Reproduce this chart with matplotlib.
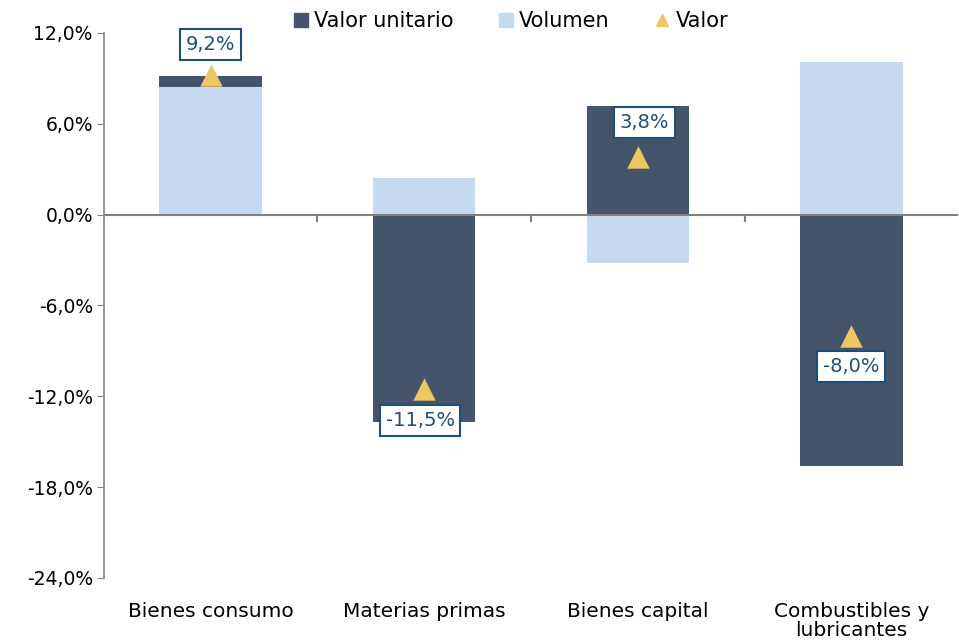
import matplotlib
matplotlib.use("Agg")
import matplotlib.pyplot as plt
import numpy as np
from matplotlib.ticker import FuncFormatter
from matplotlib.lines import Line2D
from matplotlib.patches import Patch

# Datos (variación %)
categorias = ["Bienes consumo", "Materias primas", "Bienes capital", "Combustibles y\nlubricantes"]
volumen = [8.4, 2.4, -3.2, 10.1]
valor_unitario = [0.75, -13.7, 7.15, -16.6]
valor = [9.2, -11.5, 3.8, -8.0]
valor_labels = ["9,2%", "-11,5%", "3,8%", "-8,0%"]

C_DARK = "#44546A"
C_LIGHT = "#C5D9F1"
C_TRI = "#EEC765"
C_LBL = "#1F4E79"
FS = 13.5

plt.rcParams['font.family'] = ['DejaVu Sans']

fig = plt.figure(figsize=(9.59, 6.42), dpi=100)
ax = fig.add_axes([0.1084, 0.0997, 0.8906, 0.8489])

x = np.arange(len(categorias))
w = 0.48

# apilado tipo Excel: positivos sobre positivos, negativos bajo negativos
vol = np.array(volumen)
vu = np.array(valor_unitario)
ax.bar(x, vol, w, color=C_LIGHT, zorder=2)
base_vu = np.where(np.sign(vu) == np.sign(vol), vol, 0)
ax.bar(x, vu, w, bottom=base_vu, color=C_DARK, zorder=2)

ax.scatter(x, valor, marker="^", s=260, color=C_TRI, zorder=4, linewidths=0)

offsets = [(0, 22), (-3, -23), (5, 25), (0, -22)]
for xi, v, lbl, off in zip(x, valor, valor_labels, offsets):
    ax.annotate(lbl, (xi, v), xytext=off, textcoords="offset points",
                ha="center", va="center", fontsize=14, color=C_LBL, zorder=5,
                bbox=dict(boxstyle="square,pad=0.3", fc="white", ec=C_LBL, lw=1.5))

ax.set_xlim(-0.5, len(categorias) - 0.5)
ax.set_ylim(-24, 12)
ax.set_yticks(np.arange(-24, 13, 6))
ax.yaxis.set_major_formatter(FuncFormatter(lambda v, p: f"{v:.1f}%".replace(".", ",")))
ax.tick_params(axis="y", labelsize=FS, length=5, color="#808080", pad=3)

for s in ["top", "right", "bottom"]:
    ax.spines[s].set_visible(False)
ax.spines["left"].set_color("#808080")
ax.spines["left"].set_linewidth(1.2)

# eje horizontal en cero con marcas entre categorías
ax.axhline(0, color="#808080", lw=1.5, zorder=3)
for b in x[:-1] + 0.5:
    ax.plot([b, b], [0, -0.45], color="#808080", lw=1.5, zorder=3, clip_on=False)

ax.set_xticks(x)
ax.set_xticklabels(categorias, fontsize=14.5, linespacing=1.0)
ax.tick_params(axis="x", length=0, pad=17)

handles = [Patch(color=C_DARK), Patch(color=C_LIGHT),
           Line2D([], [], marker="^", color=C_TRI, ls="none", markersize=9)]
fig.legend(handles, ["Valor unitario", "Volumen", "Valor"], loc="upper center",
           bbox_to_anchor=(0.533, 1.012), ncol=3, frameon=False, fontsize=15,
           handlelength=0.65, handleheight=0.65, handletextpad=0.3, columnspacing=2.2)

fig.savefig("out.png", dpi=100)
